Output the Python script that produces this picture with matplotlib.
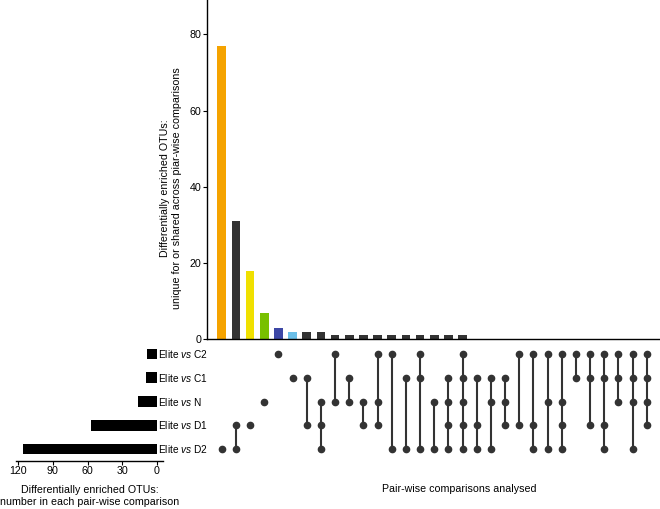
import numpy as np
import matplotlib.pyplot as plt

plt.rcParams['font.family'] = ['Liberation Sans', 'DejaVu Sans']
plt.rcParams['mathtext.fontset'] = 'custom'
plt.rcParams['mathtext.rm'] = 'Liberation Sans'
plt.rcParams['mathtext.it'] = 'Liberation Sans:italic'

# Comparison sets (bottom to top in the matrix)
set_names = ['D2', 'D1', 'N', 'C1', 'C2']
set_sizes = [116, 57, 16, 9, 8]

# Intersections, left to right
intersections = [
    ['D2'], ['D1', 'D2'], ['D1'], ['N'], ['C2'], ['C1'], ['C1', 'D1'],
    ['N', 'D1', 'D2'], ['C2', 'N'], ['C1', 'N'], ['N', 'D1'], ['C2', 'N', 'D1'],
    ['C2', 'D2'], ['C1', 'D2'], ['C2', 'C1', 'D2'], ['N', 'D2'],
    ['C1', 'N', 'D1', 'D2'], ['C2', 'C1', 'N', 'D1', 'D2'], ['C1', 'D1', 'D2'],
    ['C1', 'N', 'D2'], ['C1', 'N', 'D1'], ['C2', 'D1'], ['C2', 'D1', 'D2'],
    ['C2', 'N', 'D2'], ['C2', 'N', 'D1', 'D2'], ['C2', 'C1'], ['C2', 'C1', 'D1'],
    ['C2', 'C1', 'D1', 'D2'], ['C2', 'C1', 'N'], ['C2', 'C1', 'N', 'D2'],
    ['C2', 'C1', 'N', 'D1'],
]
counts = [77, 31, 18, 7, 3, 2, 2, 2, 1, 1, 1, 1, 1, 1, 1, 1, 1, 1,
          0, 0, 0, 0, 0, 0, 0, 0, 0, 0, 0, 0, 0]

bar_colors = ['#f5a300', '#333333', '#f0e000', '#78c000', '#3d47a5', '#6bbfe8'] \
    + ['#333333'] * (len(counts) - 6)

W, H = 660, 509
fig = plt.figure(figsize=(W / 100, H / 100), dpi=100)

def px_axes(x0, y0, x1, y1):
    # pixel box (top-left origin) -> figure axes
    return fig.add_axes([x0 / W, 1 - y1 / H, (x1 - x0) / W, (y1 - y0) / H])

dark = '#333333'
fs = 7.7
fs_set = 7.3

# Top intersection bars
ax_top = px_axes(207, 0, 660, 339.3)
xs = np.arange(len(counts))
ax_top.bar(xs, counts, width=0.61, color=bar_colors)
ax_top.set_xlim(-1.04, 30.93)
ax_top.set_ylim(0, 89)
ax_top.set_yticks([0, 20, 40, 60, 80])
ax_top.set_xticks([])
ax_top.spines[['top', 'right']].set_visible(False)
ax_top.tick_params(axis='y', labelsize=fs, length=3, width=0.8, pad=1)
for s in ['left', 'bottom']:
    ax_top.spines[s].set_linewidth(1.0)

# Matrix
ax_m = px_axes(207, 342.1, 660, 460.9)
ax_m.set_xlim(-1.04, 30.93)
ax_m.set_ylim(-0.5, 4.5)
ax_m.axis('off')
for i, combo in enumerate(intersections):
    ys = sorted(set_names.index(s) for s in combo)
    if len(ys) > 1:
        ax_m.plot([i, i], [ys[0], ys[-1]], color=dark, lw=1.5, zorder=1)
    ax_m.plot([i] * len(ys), ys, 'o', color=dark, ms=4.5, zorder=2)

# Left set-size bars
ax_l = px_axes(16, 342.1, 162.7, 460.9)
rows = np.arange(len(set_names))
ax_l.barh(rows, set_sizes, height=0.45, color='black')
ax_l.set_xlim(122, -5.2)
ax_l.set_ylim(-0.5, 4.5)
ax_l.set_xticks([120, 90, 60, 30, 0])
ax_l.set_yticks([])
ax_l.spines[['top', 'right', 'left']].set_visible(False)
ax_l.spines['bottom'].set_linewidth(1.0)
ax_l.tick_params(axis='x', labelsize=fs, length=3, width=0.8, pad=1)
for r, name in zip(rows, set_names):
    ax_l.text(-1.2, r, 'Elite $\\it{vs}$ ' + name, ha='left', va='center',
              fontsize=fs_set, clip_on=False)

# Axis titles
fig.text(171 / W, 1 - 188 / H,
         'Differentially enriched OTUs:\nunique for or shared across piar-wise comparisons',
         rotation=90, ha='center', va='center', fontsize=fs, multialignment='center')
fig.text(90 / W, 1 - 496 / H,
         'Differentially enriched OTUs:\nnumber in each pair-wise comparison',
         ha='center', va='center', fontsize=fs, multialignment='center')
fig.text(459 / W, 1 - 489 / H, 'Pair-wise comparisons analysed',
         ha='center', va='center', fontsize=fs)

fig.savefig('out.png', dpi=100)
